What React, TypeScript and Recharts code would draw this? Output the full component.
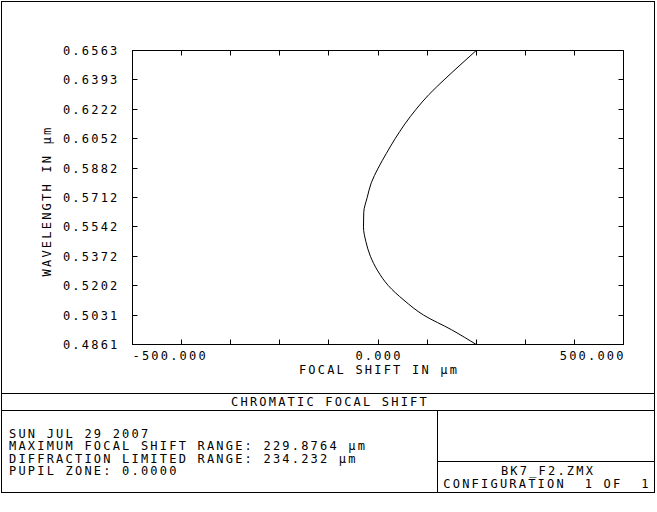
import React from 'react';
import { LineChart, Line, XAxis, YAxis, ReferenceArea } from 'recharts';

// wavelength (um) and focal shift (um)
const wavelengths = [
  0.4861, 0.4946, 0.5031, 0.5117, 0.5202, 0.5287, 0.5372, 0.5457, 0.5542, 0.5627, 0.5712,
  0.5797, 0.5882, 0.5967, 0.6052, 0.6137, 0.6222, 0.6308, 0.6393, 0.6478, 0.6563,
];
const focalShift = [
  200, 150, 93, 53, 21, -0.5, -15.5, -24.7, -29.6, -29, -22, -13.7, 0.3, 17, 34.8, 54.6, 77.3,
  103.7, 134.5, 167, 200,
];

const yTickLabels = [
  '0.4861', '0.5031', '0.5202', '0.5372', '0.5542', '0.5712', '0.5882', '0.6052', '0.6222',
  '0.6393', '0.6563',
];
const xTicks = [-500, -400, -300, -200, -100, 0, 100, 200, 300, 400, 500];
const xLabelled = [-500, 0, 500];

const footerLines = [
  'SUN JUL 29 2007',
  'MAXIMUM FOCAL SHIFT RANGE: 229.8764 \u00b5m',
  'DIFFRACTION LIMITED RANGE: 234.232 \u00b5m',
  'PUPIL ZONE: 0.0000',
];

const data = wavelengths.map((wl, i) => ({ wl, shift: focalShift[i] }));
const yTicks = yTickLabels.map(Number);
const yDomain = [yTicks[0], yTicks[yTicks.length - 1]];

// chart layout
const W = 657;
const H = 512;
const margin = { top: 50.5, right: 33.5, bottom: 137.5, left: 32.5 };
const xAxisH = 30;
const yAxisW = 100;
const plotW = W - margin.left - margin.right - yAxisW;
const plotH = H - margin.top - margin.bottom - xAxisH;

const txt: React.CSSProperties = {
  fontFamily: 'DejaVu Sans Mono',
  fontSize: 12,
  letterSpacing: 2.2,
  fill: '#000',
};

const px = (v: number) => Math.floor(v) + 0.5;

// ticks point inwards, and are repeated on the opposite edge of the plot
function BottomTick({ x, y, payload }: any) {
  const v = payload.value;
  const anchor = v < 0 ? 'start' : v > 0 ? 'end' : 'middle';
  const tx = anchor === 'end' ? x + 2.2 : anchor === 'middle' ? x + 1 : x;
  const top = y - plotH;
  return (
    <g>
      <line x1={px(x)} x2={px(x)} y1={y} y2={y - 5} stroke="#000" />
      <line x1={px(x)} x2={px(x)} y1={top} y2={top + 5} stroke="#000" />
      {xLabelled.includes(v) && (
        <text x={tx} y={y + 15} textAnchor={anchor} style={txt}>
          {v.toFixed(3)}
        </text>
      )}
    </g>
  );
}

function LeftTick({ x, y, payload }: any) {
  const right = x + plotW;
  return (
    <g>
      <line x1={x} x2={x + 5} y1={px(y)} y2={px(y)} stroke="#000" />
      <line x1={right} x2={right - 5} y1={px(y)} y2={px(y)} stroke="#000" />
      <text x={x - 13} y={y + 4.5} textAnchor="end" style={txt}>
        {payload.value.toFixed(4)}
      </text>
    </g>
  );
}

function Frame() {
  return (
    <svg
      width={W}
      height={H}
      style={{ position: 'absolute', left: 0, top: 0, pointerEvents: 'none' }}
    >
      <rect x={1.5} y={1.5} width={653} height={491} fill="none" stroke="#000" />
      <line x1={1.5} x2={654.5} y1={393.5} y2={393.5} stroke="#000" />
      <line x1={1.5} x2={654.5} y1={410.5} y2={410.5} stroke="#000" />
      <line x1={437.5} x2={437.5} y1={410.5} y2={492.5} stroke="#000" />
      <line x1={437.5} x2={654.5} y1={461.5} y2={461.5} stroke="#000" />
      <text x={379} y={374} textAnchor="middle" style={txt}>
        FOCAL SHIFT IN {'\u00b5m'}
      </text>
      <text
        x={50.5}
        y={201}
        textAnchor="middle"
        transform="rotate(-90 50.5 201)"
        style={txt}
      >
        WAVELENGTH IN {'\u00b5m'}
      </text>
      <text x={330} y={406} textAnchor="middle" style={txt}>
        CHROMATIC FOCAL SHIFT
      </text>
      {footerLines.map((s, i) => (
        <text key={i} x={9} y={437.5 + i * 12.5} style={txt}>
          {s}
        </text>
      ))}
      <text x={548} y={475} textAnchor="middle" style={txt}>
        BK7_F2.ZMX
      </text>
      <text x={547} y={488} textAnchor="middle" style={{ ...txt, whiteSpace: 'pre' }}>
        {'CONFIGURATION  1 OF  1'}
      </text>
    </svg>
  );
}

export default function App() {
  return (
    <div style={{ position: 'absolute', left: 0, top: 0, width: W, height: H, background: '#fff' }}>
      <LineChart width={W} height={H} data={data} layout="vertical" margin={margin}>
        <XAxis
          type="number"
          dataKey="shift"
          domain={[-500, 500]}
          ticks={xTicks}
          interval={0}
          allowDataOverflow
          height={xAxisH}
          tickSize={0}
          tickMargin={0}
          stroke="#000"
          tick={<BottomTick />}
        />
        <YAxis
          type="number"
          dataKey="wl"
          domain={yDomain}
          ticks={yTicks}
          interval={0}
          allowDataOverflow
          reversed
          width={yAxisW}
          tickSize={0}
          tickMargin={0}
          stroke="#000"
          tick={<LeftTick />}
        />
        <ReferenceArea
          x1={-500}
          x2={500}
          y1={yDomain[0]}
          y2={yDomain[1]}
          fill="none"
          fillOpacity={0}
          stroke="#000"
          strokeOpacity={1}
          ifOverflow="visible"
        />
        <Line
          dataKey="shift"
          type="monotone"
          stroke="#000"
          strokeWidth={1}
          dot={false}
          isAnimationActive={false}
        />
      </LineChart>
      <Frame />
    </div>
  );
}
